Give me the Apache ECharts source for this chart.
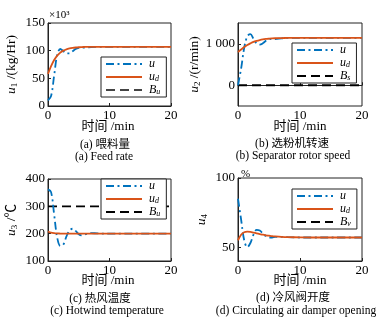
<!DOCTYPE html>
<html>
<head>
<meta charset="utf-8">
<script src="https://cdn.jsdelivr.net/npm/echarts@6/dist/echarts.min.js"></script>
<style>
  html, body { margin: 0; padding: 0; background: #fff; }
  #chart { width: 392px; height: 326px; }
</style>
</head>
<body>
<div id="chart"></div>
<script>
// Sample times (min) shared by the response curves
const time = [0, 0.5, 1, 1.5, 2, 2.5, 3, 3.5, 4, 4.5, 5, 5.5, 6, 7, 8, 10, 12, 15, 20];
const boundTime = [0, 20];

// (a) feed rate, x10^3 kg/Hr
const feedU  = [10, 18, 55, 93, 103, 99, 95, 95, 99, 103, 105, 105.5, 105.5, 106.5, 107, 107, 107, 107, 107];
const feedUd = [58, 72, 83, 91, 96.5, 100, 102.5, 104, 105, 105.7, 106.2, 106.5, 106.7, 107, 107, 107, 107, 107, 107];
const feedBound = [];

// (b) separator rotor speed, r/min
const speedU  = [0, 400, 900, 1180, 1230, 1120, 1010, 980, 1010, 1070, 1110, 1120, 1115, 1130, 1140, 1142, 1142, 1142, 1142];
const speedUd = [800, 860, 920, 970, 1010, 1045, 1070, 1090, 1105, 1115, 1122, 1128, 1132, 1137, 1140, 1142, 1142, 1142, 1142];
const speedBound = [0, 0];

// (c) hot wind temperature, degC
const tempU  = [362, 352, 270, 185, 155, 160, 190, 212, 218, 210, 198, 194, 197, 202, 201, 200, 200, 200, 200];
const tempUd = [208, 204, 202, 201, 200.5, 200, 200, 200, 200, 200, 200, 200, 200, 200, 200, 200, 200, 200, 200];
const tempBound = [300, 300];

// (d) circulating air damper opening, %
const damperU  = [85, 70, 55, 50, 53, 59, 62.5, 62, 60, 58, 57, 57, 57.5, 57.5, 57.2, 57, 57, 57, 57];
const damperUd = [55, 59, 60.8, 61.2, 61, 60.5, 60, 59.5, 59, 58.6, 58.3, 58, 57.8, 57.5, 57.3, 57.1, 57, 57, 57];
const damperBound = [];

// Axis tick labels
const timeTicks = [0, 10, 20];
const feedTicks = [0, 50, 100, 150];
const speedTicks = [0, 1000];
const tempTicks = [100, 200, 300, 400];
const damperTicks = [50, 100];

const BLUE = '#0072BD';
const RED = '#D95319';
const SERIF = '"Liberation Serif", "Times New Roman", "Noto Sans CJK SC", serif';

const pairs = (xs, ys) => ys.map((v, i) => [xs[i], v]);

const rich = {
  i: { fontFamily: SERIF, fontStyle: 'italic', fontSize: 13.5, color: '#000' },
  t: { fontFamily: SERIF, fontSize: 13.5, color: '#000' },
  sn: { fontFamily: SERIF, fontSize: 9, color: '#000', verticalAlign: 'bottom', padding: [6, 0, 0, 0] }
};
const legendRich = {
  i: { fontFamily: SERIF, fontStyle: 'italic', fontSize: 12, color: '#000' },
  s: { fontFamily: SERIF, fontStyle: 'italic', fontSize: 8, color: '#000', verticalAlign: 'bottom', padding: [5, 0, 0, 0] }
};

const panels = [
  { left: 48, top: 23, width: 123, height: 83, min: 0, max: 150, ticks: feedTicks,
    yName: '{i|u}{sn|1}{t| /(kg/Hr)}', u: feedU, ud: feedUd, bound: feedBound, boundLabel: 'u', boundColor: '#444',
    legend: { left: 101, top: 57 }, fmt: v => String(v) },
  { left: 238, top: 23, width: 124, height: 83, min: -500, max: 1500, ticks: speedTicks,
    yName: '{i|u}{sn|2}{t| /(r/min)}', u: speedU, ud: speedUd, bound: speedBound, boundLabel: 's', boundColor: '#000',
    legend: { left: 292, top: 43 }, fmt: v => v === 1000 ? '1 000' : String(v) },
  { left: 48, top: 179, width: 123, height: 82, min: 100, max: 400, ticks: tempTicks,
    yName: '{i|u}{sn|3}{t| /℃}', u: tempU, ud: tempUd, bound: tempBound, boundLabel: 'u', boundColor: '#000',
    legend: { left: 101, top: 179 }, fmt: v => String(v) },
  { left: 238, top: 178, width: 124, height: 83, min: 40, max: 100, ticks: damperTicks,
    yName: '{i|u}{sn|4}', u: damperU, ud: damperUd, bound: damperBound, boundLabel: 'v', boundColor: '#000',
    legend: { left: 292, top: 189 }, fmt: v => String(v) }
];

const captions = [
  { x: 108, y: 127, text: '时间 /min', size: 13 },
  { x: 105, y: 145, text: '(a) 喂料量', size: 11.5 },
  { x: 104, y: 157, text: '(a) Feed rate', size: 11.5 },
  { x: 300, y: 127, text: '时间 /min', size: 13 },
  { x: 292, y: 144, text: '(b) 选粉机转速', size: 11.5 },
  { x: 293, y: 156, text: '(b) Separator rotor speed', size: 11.5 },
  { x: 108, y: 281, text: '时间 /min', size: 13 },
  { x: 100, y: 299, text: '(c) 热风温度', size: 11.5 },
  { x: 107, y: 311, text: '(c) Hotwind temperature', size: 11.5 },
  { x: 300, y: 281, text: '时间 /min', size: 13 },
  { x: 293, y: 298, text: '(d) 冷风阀开度', size: 11.5 },
  { x: 296, y: 311, text: '(d) Circulating air damper opening', size: 11.5 }
];

const grid = [], xAxis = [], yAxis = [], series = [], legend = [], legendNames = {};

panels.forEach((p, k) => {
  grid.push({ left: p.left, top: p.top, width: p.width, height: p.height,
    show: true, borderColor: '#222', borderWidth: 1, backgroundColor: '#fff' });
  xAxis.push({
    gridIndex: k, type: 'value', min: 0, max: 20, interval: 10,
    axisLine: { show: true, lineStyle: { color: '#222', width: 1 } },
    axisTick: { show: true, inside: true, length: 3, lineStyle: { color: '#222' } },
    splitLine: { show: false },
    axisLabel: { color: '#000', fontFamily: SERIF, fontSize: 13, margin: 3,
      customValues: timeTicks, showMinLabel: true, showMaxLabel: true }
  });
  yAxis.push({
    gridIndex: k, type: 'value', min: p.min, max: p.max,
    name: p.yName, nameLocation: 'middle', nameRotate: 90, nameGap: 29,
    nameTextStyle: { rich: rich },
    axisLine: { show: true, lineStyle: { color: '#222', width: 1 } },
    axisTick: { show: true, inside: true, length: 3, customValues: p.ticks, lineStyle: { color: '#222' } },
    splitLine: { show: false },
    axisLabel: { color: '#000', fontFamily: SERIF, fontSize: 13, margin: 3,
      customValues: p.ticks, formatter: p.fmt }
  });
  const nU = 'u#' + k, nUd = 'ud#' + k, nB = 'B#' + k;
  legendNames[nU] = '{i|u}';
  legendNames[nUd] = '{i|u}{s|d}';
  legendNames[nB] = '{i|B}{s|' + p.boundLabel + '}';
  series.push({
    name: nU, type: 'line', xAxisIndex: k, yAxisIndex: k, data: pairs(time, p.u),
    symbol: 'none', smooth: 0.35, z: 3,
    lineStyle: { color: BLUE, width: 1.8, type: [8, 3.5, 2, 3.5] }, itemStyle: { color: BLUE }
  });
  series.push({
    name: nUd, type: 'line', xAxisIndex: k, yAxisIndex: k, data: pairs(time, p.ud),
    symbol: 'none', smooth: 0.35, z: 4,
    lineStyle: { color: RED, width: 1.8, type: 'solid' }, itemStyle: { color: RED }
  });
  series.push({
    name: nB, type: 'line', xAxisIndex: k, yAxisIndex: k, data: pairs(boundTime, p.bound),
    symbol: 'none', z: 2,
    lineStyle: { color: p.boundColor, width: 1.8, type: [9, 5] }, itemStyle: { color: p.boundColor }
  });
  legend.push({
    data: [nU, nUd, nB], orient: 'vertical', left: p.legend.left, top: p.legend.top,
    backgroundColor: '#fff', borderColor: '#222', borderWidth: 1,
    padding: [1, 6, 1, 4], itemGap: 1, itemWidth: 36, itemHeight: 10,
    selectedMode: false, inactiveColor: '#000',
    itemStyle: { color: 'transparent', borderWidth: 0, opacity: 0 },
    formatter: n => legendNames[n],
    textStyle: { rich: legendRich, fontSize: 12, lineHeight: 11, padding: [0, 0, 0, 2] }
  });
});

const graphic = captions.map(c => ({
  type: 'text', x: c.x, y: c.y, silent: true,
  style: { text: c.text, fontFamily: SERIF, fontSize: c.size, fill: '#000', align: 'center', verticalAlign: 'middle' }
}));
graphic.push({ type: 'text', x: 49, y: 15, silent: true,
  style: { text: '×10³', fontFamily: SERIF, fontSize: 11, fill: '#000', align: 'left', verticalAlign: 'middle' } });
graphic.push({ type: 'text', x: 241, y: 174, silent: true,
  style: { text: '%', fontFamily: SERIF, fontSize: 11, fill: '#000', align: 'left', verticalAlign: 'middle' } });

const chart = echarts.init(document.getElementById('chart'), null, { renderer: 'canvas' });
chart.setOption({
  animation: false,
  backgroundColor: '#fff',
  grid, xAxis, yAxis, series, legend, graphic
});
</script>
</body>
</html>
